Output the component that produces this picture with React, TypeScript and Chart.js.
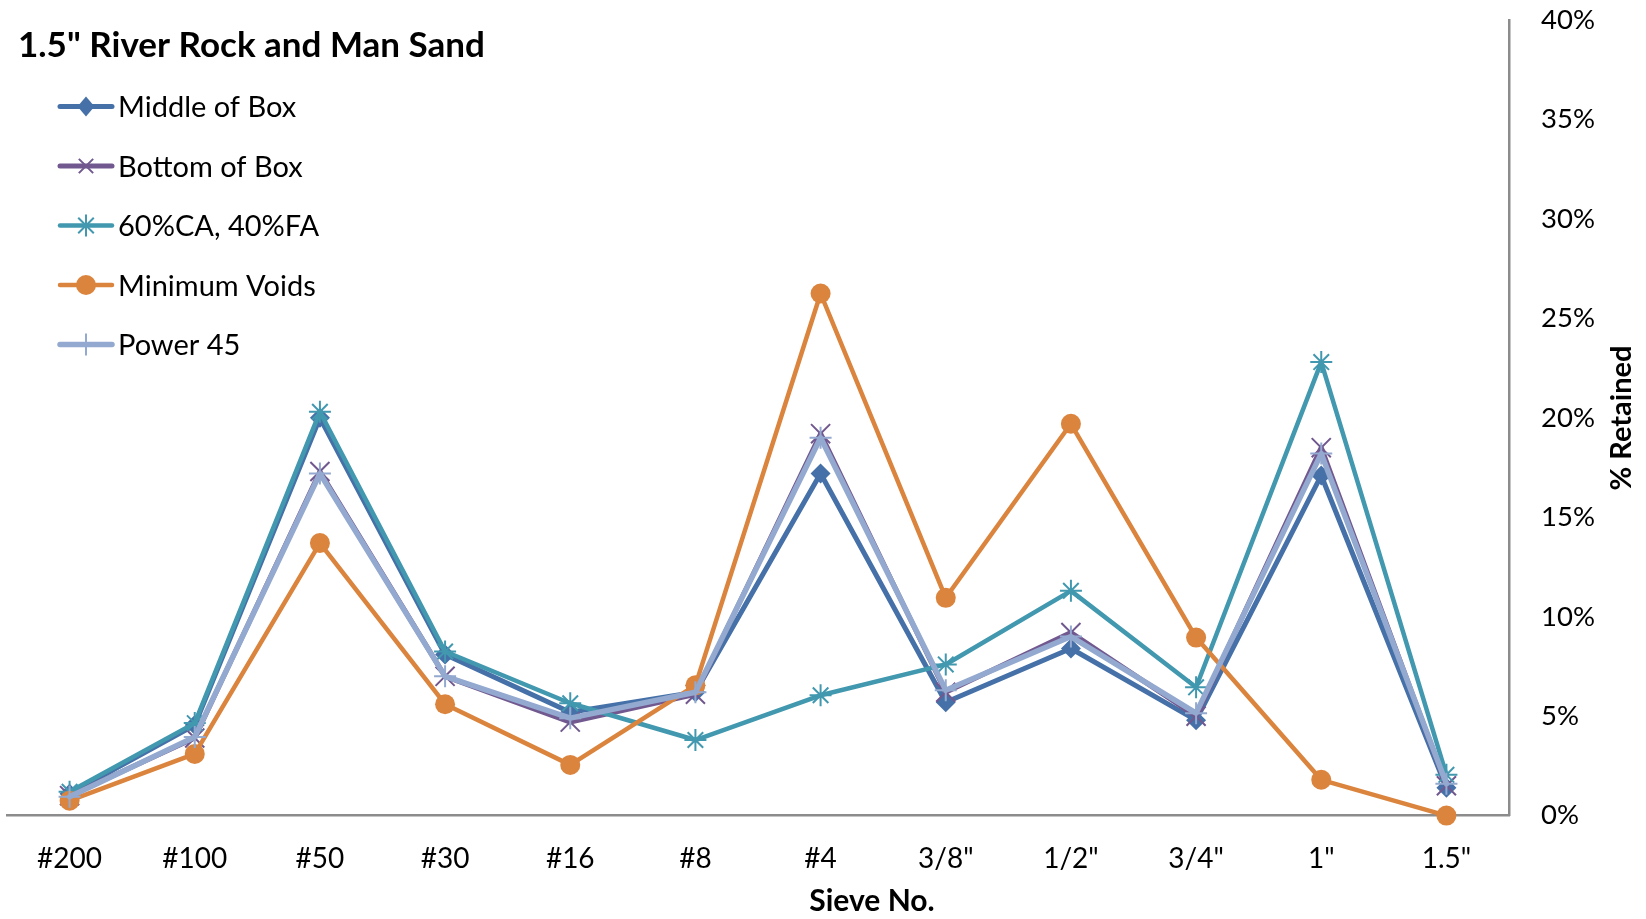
import React, { useEffect, useRef } from "react";
import { Chart, registerables } from "chart.js";

Chart.register(...registerables);

const categories = ['#200', '#100', '#50', '#30', '#16', '#8', '#4', '3/8"', '1/2"', '3/4"', '1"', '1.5"'];
const middleOfBox = [1.1, 4.55, 20.0, 8.1, 5.2, 6.2, 17.2, 5.7, 8.4, 4.8, 17.1, 1.4];
const bottomOfBox = [1.0, 3.9, 17.3, 7.0, 4.7, 6.1, 19.2, 6.2, 9.2, 5.0, 18.5, 1.5];
const ca60fa40 = [1.2, 4.65, 20.3, 8.25, 5.65, 3.8, 6.05, 7.6, 11.3, 6.45, 22.8, 2.05];
const minimumVoids = [0.75, 3.1, 13.7, 5.6, 2.55, 6.55, 26.25, 10.95, 19.7, 8.95, 1.8, 0.0];
const power45 = [0.95, 3.95, 17.2, 7.0, 4.9, 6.2, 19.0, 6.3, 9.0, 5.15, 18.2, 1.6];

const seriesNames = ["Middle of Box", "Bottom of Box", "60%CA, 40%FA", "Minimum Voids", "Power 45"];
const chartTitle = '1.5" River Rock and Man Sand';
const xTitle = "Sieve No.";
const yTitle = "% Retained";

const COLORS = ["#4571A8", "#71588F", "#4198AF", "#DB843D", "#93A9CF"];
const STYLES = ["rectRot", "crossRot", "star", "circle", "cross"];
const RADII = [10, 13.5, 11, 10, 11];
const LINEW = [5, 5, 4.5, 4.5, 5.5];
const FONT = "Lato, 'Open Sans', sans-serif";

const TARGET = { left: 7, top: 20, right: 1509, bottom: 815.6 };

function drawMarker(ctx: CanvasRenderingContext2D, style: string, x: number, y: number, r: number, color: string) {
  ctx.save();
  ctx.fillStyle = color;
  ctx.strokeStyle = color;
  ctx.lineWidth = 2;
  ctx.beginPath();
  if (style === "rectRot") {
    ctx.moveTo(x, y - r);
    ctx.lineTo(x + r * 0.85, y);
    ctx.lineTo(x, y + r);
    ctx.lineTo(x - r * 0.85, y);
    ctx.closePath();
    ctx.fill();
  } else if (style === "circle") {
    ctx.arc(x, y, r, 0, Math.PI * 2);
    ctx.fill();
  } else {
    const d = r * Math.SQRT1_2;
    if (style === "crossRot" || style === "star") {
      ctx.moveTo(x - d, y - d);
      ctx.lineTo(x + d, y + d);
      ctx.moveTo(x - d, y + d);
      ctx.lineTo(x + d, y - d);
    }
    if (style === "cross" || style === "star") {
      ctx.moveTo(x, y - r);
      ctx.lineTo(x, y + r);
      ctx.moveTo(x - r, y);
      ctx.lineTo(x + r, y);
    }
    ctx.stroke();
  }
  ctx.restore();
}

const overlayPlugin = {
  id: "overlay",
  afterDraw(chart: any) {
    const ctx: CanvasRenderingContext2D = chart.ctx;
    ctx.save();
    ctx.fillStyle = "#000";
    ctx.textBaseline = "alphabetic";
    ctx.textAlign = "left";
    ctx.font = `bold 35px ${FONT}`;
    ctx.fillText(chartTitle, 18, 57);

    ctx.font = `29px ${FONT}`;
    seriesNames.forEach((name, i) => {
      const base = 117 + i * 59.5;
      const cy = base - 10.5;
      ctx.save();
      ctx.strokeStyle = COLORS[i];
      ctx.lineWidth = LINEW[i];
      ctx.lineCap = "round";
      ctx.beginPath();
      ctx.moveTo(60, cy);
      ctx.lineTo(112, cy);
      ctx.stroke();
      ctx.restore();
      drawMarker(ctx, STYLES[i], 86, cy, RADII[i] * (STYLES[i] === "crossRot" ? 0.75 : 1), COLORS[i]);
      ctx.fillStyle = "#000";
      ctx.fillText(name, 118, base);
    });

    ctx.font = `bold 30px ${FONT}`;
    ctx.textAlign = "center";
    ctx.textBaseline = "middle";
    ctx.fillText(xTitle, 872, 901);

    ctx.translate(1622, 418);
    ctx.rotate(-Math.PI / 2);
    ctx.font = `bold 29px ${FONT}`;
    ctx.fillText(yTitle, 0, 0);
    ctx.restore();
  },
};

export default function App() {
  const canvasRef = useRef<HTMLCanvasElement | null>(null);

  useEffect(() => {
    if (!canvasRef.current) return;
    const all = [middleOfBox, bottomOfBox, ca60fa40, minimumVoids, power45];
    const orders = [4, 3, 2, 1, 0];
    const padding = { left: TARGET.left, top: TARGET.top, right: 0, bottom: 0 };
    const chart = new Chart(canvasRef.current, {
      type: "line",
      data: {
        labels: categories,
        datasets: all.map((d, i) => ({
          label: seriesNames[i],
          data: d,
          borderColor: COLORS[i],
          backgroundColor: COLORS[i],
          borderWidth: LINEW[i],
          borderJoinStyle: "round",
          borderCapStyle: "round",
          pointStyle: STYLES[i],
          pointRadius: RADII[i],
          pointBorderWidth: STYLES[i] === "circle" || STYLES[i] === "rectRot" ? 0 : 2,
          pointBackgroundColor: COLORS[i],
          pointBorderColor: COLORS[i],
          tension: 0,
          fill: false,
          clip: 20,
          order: orders[i],
        })) as any,
      },
      options: {
        responsive: true,
        maintainAspectRatio: false,
        animation: false,
        events: [],
        layout: { padding, autoPadding: false },
        plugins: {
          legend: { display: false },
          tooltip: { enabled: false },
          title: { display: false },
        },
        scales: {
          x: {
            type: "category",
            offset: true,
            grid: { display: false, drawTicks: false },
            border: { display: true, color: "#8C8C8C", width: 2.5 },
            ticks: {
              color: "#000",
              font: { family: FONT, size: 28 },
              padding: 27,
              maxRotation: 0,
              autoSkip: false,
            },
            afterFit: (s: any) => {
              s.height = 919 - TARGET.bottom;
              s.paddingLeft = 0;
              s.paddingRight = 0;
            },
          },
          y: {
            position: "right",
            min: 0,
            max: 40,
            grid: { display: false, drawTicks: false },
            border: { display: true, color: "#8C8C8C", width: 2.5 },
            ticks: {
              stepSize: 5,
              color: "#000",
              font: { family: FONT, size: 27.5 },
              padding: 32,
              callback: (v: any) => `${v}%`,
            },
            afterFit: (s: any) => {
              s.width = 1646 - TARGET.right;
              s.paddingTop = 0;
              s.paddingBottom = 0;
            },
          },
        },
      },
      plugins: [overlayPlugin],
    });
    for (let k = 0; k < 3; k++) {
      const a = chart.chartArea;
      if (!a) break;
      const dl = TARGET.left - a.left;
      const dt = TARGET.top - a.top;
      if (Math.abs(dl) < 0.3 && Math.abs(dt) < 0.3) break;
      padding.left = Math.max(0, padding.left + dl);
      padding.top = Math.max(0, padding.top + dt);
      (chart.options as any).layout.padding = { ...padding };
      chart.update();
    }
    return () => chart.destroy();
  }, []);

  return (
    <div style={{ position: "absolute", left: 0, top: 0, width: 1646, height: 919, background: "#fff" }}>
      <canvas ref={canvasRef} />
    </div>
  );
}
